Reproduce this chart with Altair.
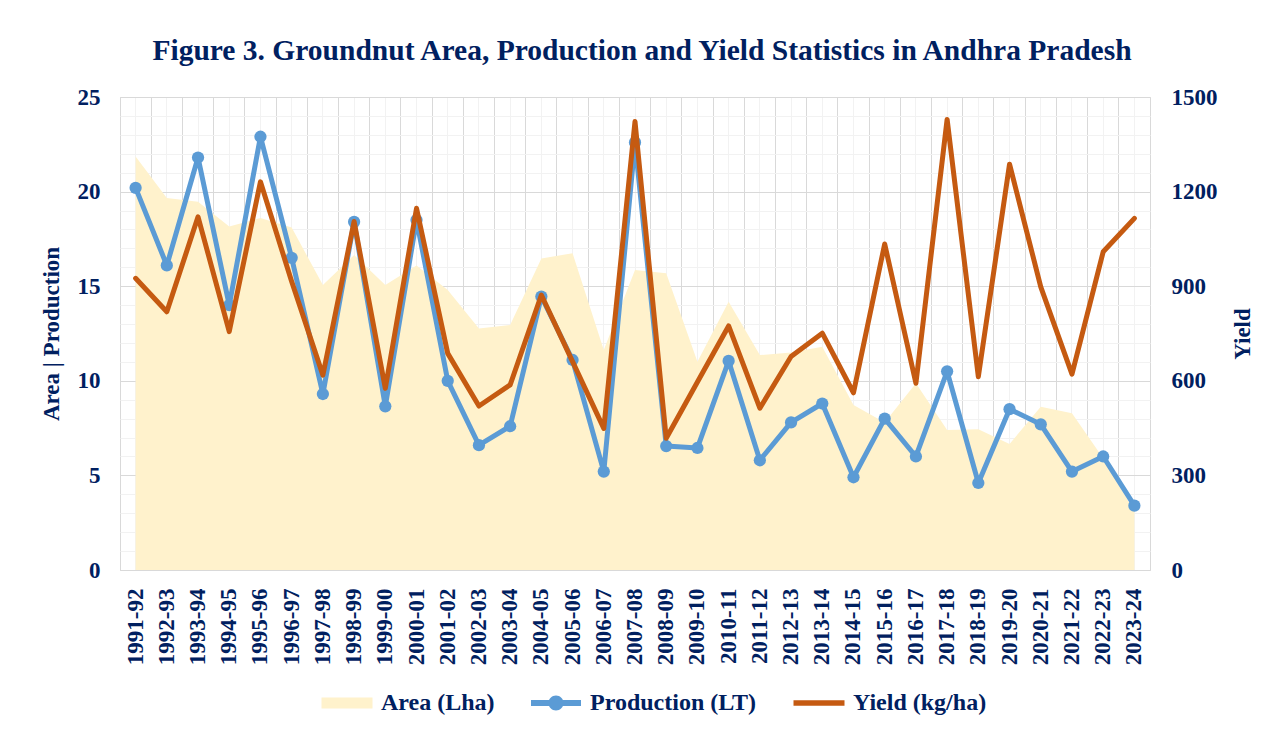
import altair as alt
import pandas as pd

years = ["1991-92", "1992-93", "1993-94", "1994-95", "1995-96", "1996-97", "1997-98",
         "1998-99", "1999-00", "2000-01", "2001-02", "2002-03", "2003-04", "2004-05",
         "2005-06", "2006-07", "2007-08", "2008-09", "2009-10", "2010-11", "2011-12",
         "2012-13", "2013-14", "2014-15", "2015-16", "2016-17", "2017-18", "2018-19",
         "2019-20", "2020-21", "2021-22", "2022-23", "2023-24"]

area = [21.85, 19.66, 19.47, 18.15, 18.6, 18.1, 15.06, 16.65, 15.06, 16.1, 14.8,
        12.77, 12.95, 16.47, 16.74, 11.63, 15.86, 15.68, 11.01, 14.18, 11.36, 11.5,
        11.8, 8.72, 7.8, 9.87, 7.4, 7.44, 6.66, 8.63, 8.28, 5.9, 3.1]

production = [20.2, 16.1, 21.8, 14.0, 22.9, 16.5, 9.3, 18.4, 8.65, 18.5, 10.0,
              6.6, 7.6, 14.45, 11.1, 5.2, 22.6, 6.55, 6.45, 11.05, 5.8, 7.8,
              8.8, 4.9, 8.0, 6.0, 10.5, 4.6, 8.5, 7.7, 5.2, 6.0, 3.4]

yield_kg = [925, 819, 1120, 756, 1231, 915, 618, 1105, 576, 1147, 687,
            520, 587, 872, 661, 449, 1422, 418, 596, 774, 513, 677,
            751, 562, 1034, 592, 1429, 613, 1287, 898, 621, 1009, 1115]

series_names = ["Area (Lha)", "Production (LT)", "Yield (kg/ha)"]
series_colors = ["#FFF2CC", "#5B9BD5", "#C55A11"]
left_ticks = list(range(0, 26))
right_ticks = [0, 300, 600, 900, 1200, 1500]
title_text = "Figure 3. Groundnut Area, Production and Yield Statistics in Andhra Pradesh"

df = pd.DataFrame({"year": years, "area": area, "production": production, "yield": yield_kg})

NAVY = "#002060"
FONT = "Liberation Serif"
MAJOR = "#D9D9D9"
MINOR = "#F2F2F2"

xscale = alt.Scale(type="band", paddingInner=0, paddingOuter=0, domain=years)
color_scale = alt.Scale(domain=series_names, range=series_colors)

shape_expr = ("datum.value === 'Area (Lha)' ? 'M-2.55,-0.55H2.55V0.55H-2.55Z' : "
              "datum.value === 'Production (LT)' ? "
              "'M-2.5,-0.3H2.5V0.3H-2.5Z M-0.75,0A0.75,0.75 0 1,1 0.75,0A0.75,0.75 0 1,1 -0.75,0Z' : "
              "'M-2.55,-0.27H2.55V0.27H-2.55Z'")

legend = alt.Legend(
    title=None, orient="none", direction="horizontal", legendX=215, legendY=594,
    labelFont=FONT, labelFontSize=24, labelFontWeight="bold", labelColor=NAVY,
    labelLimit=400,
    symbolSize=400, labelOffset=22, columnPadding=36,
    symbolType={"expr": shape_expr},
    symbolFillColor={"expr": "scale('color', datum.value)"},
    symbolStrokeWidth=0, symbolOpacity=1,
)

bottom_axis = alt.Axis(orient="bottom", title=None, labelAngle=270, labelFont=FONT,
                       labelFontSize=23, labelFontWeight="bold", labelColor=NAVY,
                       labelPadding=18, ticks=False, domain=False, grid=True,
                       gridColor=MINOR, bandPosition=0.5, labelOverlap=False)
top_axis = alt.Axis(orient="top", title=None, labels=False, ticks=False, domain=False,
                    grid=True, gridColor=MAJOR, bandPosition=0)

left_axis = alt.Axis(orient="left", values=left_ticks,
                     labelExpr="datum.value % 5 === 0 ? datum.label : ''",
                     grid=True,
                     gridColor={"condition": {"test": "datum.value % 5 === 0", "value": MAJOR},
                                "value": MINOR},
                     ticks=False, domain=False, labelOverlap=False,
                     labelFont=FONT, labelFontSize=23, labelFontWeight="bold",
                     labelColor=NAVY, labelPadding=20,
                     title="Area | Production", titleFont=FONT, titleFontSize=23,
                     titleFontWeight="bold", titleColor=NAVY, titlePadding=14)
right_axis = alt.Axis(orient="right", values=right_ticks, format="d", grid=False,
                      ticks=False, domain=False, labelFont=FONT, labelFontSize=23,
                      labelFontWeight="bold", labelColor=NAVY, labelPadding=21,
                      title="Yield", titleFont=FONT, titleFontSize=23,
                      titleFontWeight="bold", titleColor=NAVY, titlePadding=14,
                      titleAngle=270, titleBaseline="top")

base = alt.Chart(df)

area_layer = base.transform_calculate(series="'Area (Lha)'").mark_area(opacity=1).encode(
    x=alt.X("year:N", scale=xscale, bandPosition=0.5, axis=bottom_axis),
    y=alt.Y("area:Q", scale=alt.Scale(domain=[0, 25]), axis=left_axis),
    color=alt.Color("series:N", scale=color_scale, legend=legend),
)

prod_layer = base.transform_calculate(series="'Production (LT)'").mark_line(
    strokeWidth=5, strokeJoin="round", strokeCap="round",
    point=alt.OverlayMarkDef(filled=True, size=150, opacity=1),
).encode(
    x=alt.X("year:N", scale=xscale, bandPosition=0.5, axis=bottom_axis),
    y=alt.Y("production:Q", scale=alt.Scale(domain=[0, 25]), axis=left_axis),
    color=alt.Color("series:N", scale=color_scale, legend=legend),
)

yield_layer = base.transform_calculate(series="'Yield (kg/ha)'").mark_line(
    strokeWidth=5, strokeJoin="round", strokeCap="round",
).encode(
    x=alt.X("year:N", scale=xscale, bandPosition=0.5, axis=top_axis),
    y=alt.Y("yield:Q", scale=alt.Scale(domain=[0, 1500]), axis=right_axis),
    color=alt.Color("series:N", scale=color_scale, legend=legend),
)

left = alt.layer(area_layer, prod_layer)

chart = alt.layer(left, yield_layer).resolve_scale(y="independent").resolve_axis(
    x="independent"
).properties(
    width=1030, height=473,
    autosize=alt.AutoSizeParams(type="none"),
    padding={"left": 112, "top": 89, "right": 110, "bottom": 151},
    title=alt.TitleParams(title_text, font=FONT, fontSize=29.5, fontWeight="bold",
                          color=NAVY, anchor="middle", offset=20, dx=7),
    background="white",
).configure_view(stroke=MAJOR, strokeWidth=1)

chart.save("out.html", embed_options={"renderer": "svg", "actions": False})
